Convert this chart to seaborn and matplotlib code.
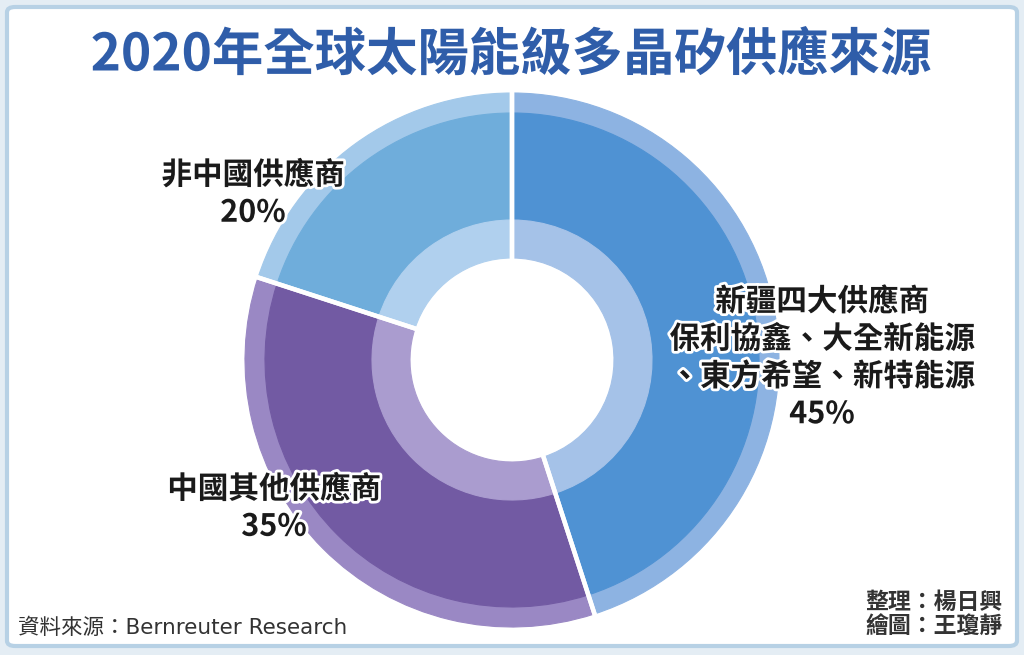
import matplotlib
matplotlib.use("Agg")
import matplotlib.pyplot as plt
import matplotlib.patheffects as pe
from matplotlib.patches import FancyBboxPatch
import seaborn as sns

# ---------------- data ----------------
title = "2020年全球太陽能級多晶矽供應來源"
categories = ["新疆四大供應商\n保利協鑫、大全新能源\n、東方希望、新特能源",
              "中國其他供應商",
              "非中國供應商"]
shares = [45, 35, 20]
pct_labels = ["45%", "35%", "20%"]
source = "資料來源：Bernreuter Research"
credits = "整理：楊日興\n繪圖：王瓊靜"

main_colors = ["#4F92D3", "#725AA3", "#6FADDB"]
rim_colors = ["#8DB3E2", "#9A88C4", "#A3C9EA"]
inner_colors = ["#A5C2E8", "#AA9CCF", "#B0D0EE"]

# ---------------- style ----------------
sns.set_theme(style="white")
plt.rcParams["font.family"] = ["Noto Sans CJK TC", "DejaVu Sans"]

W, H = 1024, 655
fig = plt.figure(figsize=(W / 100, H / 100), dpi=100)
fig.patch.set_facecolor("#E4EDF4")

frame = FancyBboxPatch((7 / W, 9 / H), (W - 14) / W, (H - 16) / H,
                       boxstyle="round,pad=0,rounding_size=0.008",
                       transform=fig.transFigure, facecolor="white",
                       edgecolor="#B7D1E5", linewidth=3, zorder=-5)
fig.patches.append(frame)

# ---------------- donut ----------------
cx, cy, R = 512, 360, 267
ax = fig.add_axes([(cx - R) / W, (H - cy - R) / H, 2 * R / W, 2 * R / H])
ax.set_zorder(2)

r_main = 247 / R
r_inner = 140 / R
r_hole = 102 / R

def ring(radius, width, colors):
    wedges, _ = ax.pie(shares, radius=radius, colors=sns.color_palette(colors),
                       startangle=90, counterclock=False,
                       wedgeprops=dict(width=width, linewidth=0.8))
    for w in wedges:
        w.set_edgecolor(w.get_facecolor())
    return wedges

ring(1.0, 1.0 - r_main, rim_colors)
ring(r_main, r_main - r_inner, main_colors)
ring(r_inner, r_inner - r_hole, inner_colors)

# white separators
ax.pie(shares, radius=1.02, startangle=90, counterclock=False,
       wedgeprops=dict(fill=False, edgecolor="white", linewidth=3.2))

ax.set_xlim(-1, 1)
ax.set_ylim(-1, 1)
ax.set_aspect("equal")
ax.axis("off")

# ---------------- labels ----------------
stroke = [pe.withStroke(linewidth=4, foreground="white")]
label_pos = [(822, 358), (274, 508), (253, 194)]
for (lx, ly), cat, pct in zip(label_pos, categories, pct_labels):
    t = fig.text(lx / W, 1 - ly / H, cat + "\n" + pct, ha="center", va="center",
                 fontsize=22, fontweight="bold", color="#1A1A1A",
                 linespacing=1.22, path_effects=stroke, multialignment="center")
    t.set_zorder(5)

fig.text(511 / W, 1 - 55 / H, title, ha="center", va="center",
         fontsize=37, fontweight="bold", color="#2F5DA9",
         path_effects=[pe.withStroke(linewidth=3, foreground="white")])

fig.text(18 / W, 1 - 628 / H, source, ha="left", va="center",
         fontsize=15.5, color="#333333", family=["DejaVu Sans", "Noto Sans CJK TC"])
fig.text(1003 / W, 1 - 615 / H, credits, ha="right", va="center",
         fontsize=16.5, fontweight="bold", color="#333333", linespacing=1.1)

fig.savefig("out.png", dpi=100, facecolor=fig.get_facecolor())
